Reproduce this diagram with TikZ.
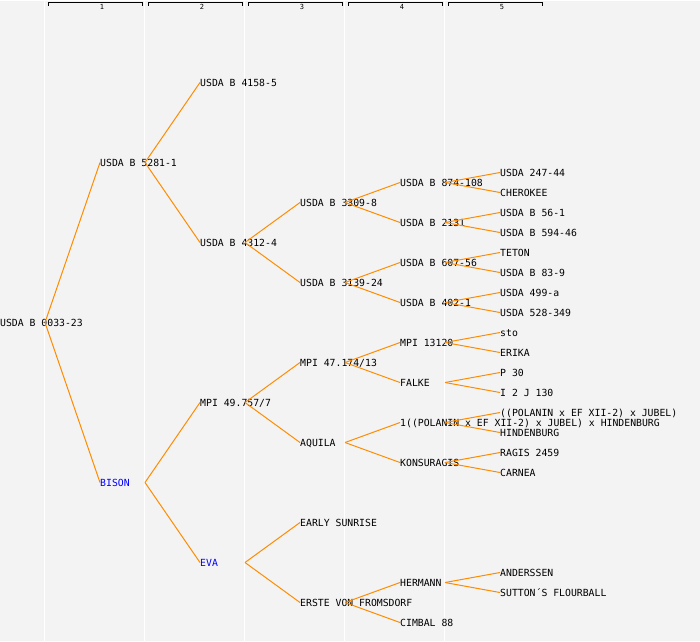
\documentclass[tikz,border=0pt]{standalone}
\usepackage{fontspec}
\setmonofont{DejaVu Sans Mono}
\definecolor{bggray}{HTML}{F3F3F3}
\definecolor{linkorange}{HTML}{FF8C00}

\begin{document}
\begin{tikzpicture}[x=1pt,y=-1pt,
    plant/.style={anchor=west,inner sep=0pt,text height=7.3pt,text depth=0pt,font=\ttfamily\fontsize{9.8}{10}\selectfont},
    named/.style={plant,text=blue},
    colnum/.style={inner sep=0pt,font=\ttfamily\fontsize{7}{7}\selectfont},
    bracket/.style={black,line width=1pt},
    link/.style={linkorange,line width=1pt}]
        \fill[bggray] (0,0) rectangle (700,640);
        \foreach \i in {1,...,5} {
            \draw[white,line width=1pt] (\i*100-55.5,0) -- (\i*100-55.5,640);
            \draw[bracket] (\i*100-52,5) -- (\i*100-52,1.5) -- (\i*100+42,1.5) -- (\i*100+42,5);
            \node[colnum] (h\i) at (\i*100+2,6.5) {\i};
        }

        \node[plant] (n) at (0,322) {USDA B 0033-23};

        \node[plant] (n1) at (100,162) {USDA B 5281-1};
        \node[named] (n2) at (100,482) {BISON};

        \node[plant] (n11) at (200,82) {USDA B 4158-5};
        \node[plant] (n12) at (200,242) {USDA B 4312-4};
        \node[plant] (n21) at (200,402) {MPI 49.757/7};
        \node[named] (n22) at (200,562) {EVA};

        \node[plant] (n121) at (300,202) {USDA B 3309-8};
        \node[plant] (n122) at (300,282) {USDA B 3139-24};
        \node[plant] (n211) at (300,362) {MPI 47.174/13};
        \node[plant] (n212) at (300,442) {AQUILA};
        \node[plant] (n221) at (300,522) {EARLY SUNRISE};
        \node[plant] (n222) at (300,602) {ERSTE VON FROMSDORF};

        \node[plant] (n1211) at (400,182) {USDA B 874-108};
        \node[plant] (n1212) at (400,222) {USDA B 2131};
        \node[plant] (n1221) at (400,262) {USDA B 607-56};
        \node[plant] (n1222) at (400,302) {USDA B 402-1};
        \node[plant] (n2111) at (400,342) {MPI 13120};
        \node[plant] (n2112) at (400,382) {FALKE};
        \node[plant] (n2121) at (400,422) {1((POLANIN x EF XII-2) x JUBEL) x HINDENBURG};
        \node[plant] (n2122) at (400,462) {KONSURAGIS};
        \node[plant] (n2221) at (400,582) {HERMANN};
        \node[plant] (n2222) at (400,622) {CIMBAL 88};

        \node[plant] (n12111) at (500,172) {USDA 247-44};
        \node[plant] (n12112) at (500,192) {CHEROKEE};
        \node[plant] (n12121) at (500,212) {USDA B 56-1};
        \node[plant] (n12122) at (500,232) {USDA B 594-46};
        \node[plant] (n12211) at (500,252) {TETON};
        \node[plant] (n12212) at (500,272) {USDA B 83-9};
        \node[plant] (n12221) at (500,292) {USDA 499-a};
        \node[plant] (n12222) at (500,312) {USDA 528-349};
        \node[plant] (n21111) at (500,332) {sto};
        \node[plant] (n21112) at (500,352) {ERIKA};
        \node[plant] (n21121) at (500,372) {P 30};
        \node[plant] (n21122) at (500,392) {I 2 J 130};
        \node[plant] (n21211) at (500,412) {((POLANIN x EF XII-2) x JUBEL)};
        \node[plant] (n21212) at (500,432) {HINDENBURG};
        \node[plant] (n21221) at (500,452) {RAGIS 2459};
        \node[plant] (n21222) at (500,472) {CARNEA};
        \node[plant] (n22211) at (500,572) {ANDERSSEN};
        \node[plant] (n22212) at (500,592) {SUTTON´S FLOURBALL};

        \foreach \p/\c in {n/n1, n/n2, n1/n11, n1/n12, n2/n21, n2/n22,
            n12/n121, n12/n122, n21/n211, n21/n212, n22/n221, n22/n222,
            n121/n1211, n121/n1212, n122/n1221, n122/n1222, n211/n2111, n211/n2112,
            n212/n2121, n212/n2122, n222/n2221, n222/n2222,
            n1211/n12111, n1211/n12112, n1212/n12121, n1212/n12122,
            n1221/n12211, n1221/n12212, n1222/n12221, n1222/n12222,
            n2111/n21111, n2111/n21112, n2112/n21121, n2112/n21122,
            n2121/n21211, n2121/n21212, n2122/n21221, n2122/n21222,
            n2221/n22211, n2221/n22212}
            \draw[link] ([xshift=45pt]\p.west) -- (\c.west);
\end{tikzpicture}
\end{document}
